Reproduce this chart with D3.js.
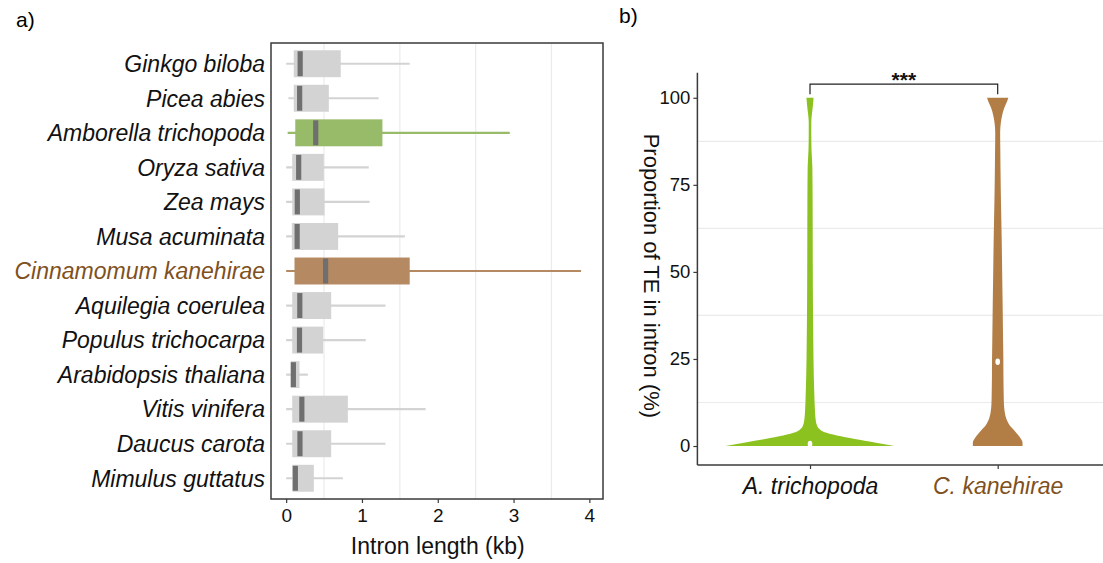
<!DOCTYPE html>
<html>
<head>
<meta charset="utf-8">
<script src="https://cdn.jsdelivr.net/npm/d3@7"></script>
<style>
  html, body { margin: 0; padding: 0; background: #fff; }
  svg { display: block; font-family: "Liberation Sans", Arial, sans-serif; }
</style>
</head>
<body>
<svg id="chart" width="1103" height="563"></svg>
<script>
// ---- Panel a: intron length per species (kb) ----
const species = [
  "Ginkgo biloba", "Picea abies", "Amborella trichopoda", "Oryza sativa",
  "Zea mays", "Musa acuminata", "Cinnamomum kanehirae", "Aquilegia coerulea",
  "Populus trichocarpa", "Arabidopsis thaliana", "Vitis vinifera",
  "Daucus carota", "Mimulus guttatus"
];
const whiskerLow  = [0.00, 0.03, 0.02, 0.00, 0.00, 0.00, 0.00, 0.00, 0.00, 0.00, 0.00, 0.00, 0.00];
const boxLow      = [0.10, 0.10, 0.12, 0.08, 0.08, 0.075, 0.11, 0.08, 0.08, 0.06, 0.08, 0.08, 0.08];
const medians     = [0.185, 0.178, 0.39, 0.165, 0.147, 0.145, 0.52, 0.18, 0.176, 0.095, 0.207, 0.182, 0.121];
const boxHigh     = [0.72, 0.563, 1.27, 0.497, 0.506, 0.686, 1.63, 0.594, 0.488, 0.176, 0.814, 0.594, 0.365];
const whiskerHigh = [1.63, 1.22, 2.95, 1.09, 1.10, 1.566, 3.89, 1.31, 1.05, 0.286, 1.84, 1.31, 0.748];
const lengthTicks = [0, 1, 2, 3, 4];
const lengthGrid  = [0.5, 1.5, 2.5, 3.5];

// ---- Panel b: share of TE within introns (%) ----
const teGroups = ["A. trichopoda", "C. kanehirae"];
const teLevelsA = [0, 1, 2, 3, 4, 5, 6, 8, 10, 15, 20, 30, 40, 50, 60, 70, 80, 85, 90, 93, 95, 97, 99, 100];
const teDensityA = [100, 76.5, 52.9, 31.8, 16.5, 10.6, 8.2, 6.5, 5.9, 5.1, 4.5, 3.9, 3.5, 3.3, 3.2, 3.1, 2.8, 1.8, 1.5, 1.5, 2.1, 3.1, 3.9, 4.2];
const teLevelsC = [0, 1, 2, 3, 4, 5, 6, 7, 8, 10, 12, 15, 20, 25, 30, 40, 50, 60, 70, 80, 85, 90, 93, 95, 97, 99, 100];
const teDensityC = [29.4, 29.4, 27.6, 24.7, 21.2, 17.6, 14.1, 11.8, 10, 8.2, 7.4, 7.1, 6.8, 6.7, 6.4, 5.9, 5.3, 4.7, 3.9, 3.3, 3.1, 2.9, 3.8, 5.3, 7.6, 11.2, 12.6];
const teMedians = [0.6, 24.2];
const teTicks = [0, 25, 50, 75, 100];
const teGrid = [12.5, 37.5, 62.5, 87.5];
const significance = "***";

const svg = d3.select("#chart");
const GREY = "#d3d3d3", GREEN_BOX = "#98bb6a", BROWN_BOX = "#b58a63";
const MEDIAN = "#6f6f6f", BROWN_TEXT = "#7f5020";
const VIOLIN_GREEN = "#8cc220", VIOLIN_BROWN = "#b27e46";
const highlight = { "Amborella trichopoda": GREEN_BOX, "Cinnamomum kanehirae": BROWN_BOX };

// ================= Panel a =================
const aLeft = 271, aRight = 603, aTop = 43, aBottom = 499;
const x = d3.scaleLinear().domain([-0.2, 4.18]).range([aLeft, aRight]);
const y = d3.scalePoint().domain(species).range([aTop, aBottom]).padding(0.6);
const boxH = y.step() * 0.78;

svg.append("text").attr("x", 16).attr("y", 27).attr("font-size", 21).text("a)");

const gA = svg.append("g");
gA.selectAll("line.grid").data(lengthGrid).join("line")
  .attr("class", "grid")
  .attr("x1", d => x(d)).attr("x2", d => x(d))
  .attr("y1", aTop).attr("y2", aBottom)
  .attr("stroke", "#ebebeb").attr("stroke-width", 1.2);

const rows = species.map((s, i) => ({
  s, lo: whiskerLow[i], q1: boxLow[i], med: medians[i], q3: boxHigh[i], hi: whiskerHigh[i],
  col: highlight[s] || GREY
}));

const row = gA.selectAll("g.row").data(rows).join("g").attr("class", "row");
row.append("line")
  .attr("x1", d => x(d.lo)).attr("x2", d => x(d.hi))
  .attr("y1", d => y(d.s)).attr("y2", d => y(d.s))
  .attr("stroke", d => d.col).attr("stroke-width", 2.2);
row.append("rect")
  .attr("x", d => x(d.q1)).attr("width", d => x(d.q3) - x(d.q1))
  .attr("y", d => y(d.s) - boxH / 2).attr("height", boxH)
  .attr("fill", d => d.col);
row.append("rect")
  .attr("x", d => x(d.med) - 2.6).attr("width", 5.2)
  .attr("y", d => y(d.s) - boxH / 2 + 1).attr("height", boxH - 2)
  .attr("fill", MEDIAN);

gA.append("rect")
  .attr("x", aLeft).attr("y", aTop).attr("width", aRight - aLeft).attr("height", aBottom - aTop)
  .attr("fill", "none").attr("stroke", "#3a3a3a").attr("stroke-width", 1.5);

const xAxisA = gA.append("g").attr("transform", `translate(0,${aBottom})`)
  .call(d3.axisBottom(x).tickValues(lengthTicks).tickSize(4).tickPadding(6).tickFormat(d3.format("d")));
xAxisA.select(".domain").remove();
xAxisA.selectAll(".tick line").attr("stroke", "#3a3a3a").attr("stroke-width", 1.2);
xAxisA.selectAll(".tick text").attr("font-size", 19).attr("fill", "#111")
  .attr("font-family", "Liberation Sans, Arial, sans-serif");

svg.append("text").attr("x", x(2)).attr("y", 554).attr("text-anchor", "middle")
  .attr("font-size", 23).attr("fill", "#111").text("Intron length (kb)");

gA.selectAll("text.sp").data(species).join("text")
  .attr("class", "sp")
  .attr("x", 265).attr("y", d => y(d)).attr("dy", "0.36em")
  .attr("text-anchor", "end").attr("font-size", 23).attr("font-style", "italic")
  .attr("fill", d => d === "Cinnamomum kanehirae" ? BROWN_TEXT : "#111")
  .text(d => d);

// ================= Panel b =================
const bLeft = 697.4, bBottom = 465, bTop = 72.7;
const xb = d3.scalePoint().domain(teGroups).range([bLeft, 1110.3]).padding(0.6);
const yb = d3.scaleLinear().domain([-5.45, 107.2]).range([bBottom, bTop]);
const maxDensity = d3.max(teDensityA.concat(teDensityC));
const w = d3.scaleLinear().domain([0, maxDensity]).range([0, xb.step() * 0.45]);

svg.append("text").attr("x", 619).attr("y", 23).attr("font-size", 21).text("b)");

const gB = svg.append("g");
gB.selectAll("line.grid").data(teGrid).join("line")
  .attr("class", "grid")
  .attr("x1", bLeft).attr("x2", 1103)
  .attr("y1", d => yb(d)).attr("y2", d => yb(d))
  .attr("stroke", "#ebebeb").attr("stroke-width", 1.2);

const violins = [
  { g: teGroups[0], levels: teLevelsA, dens: teDensityA, col: VIOLIN_GREEN, med: teMedians[0] },
  { g: teGroups[1], levels: teLevelsC, dens: teDensityC, col: VIOLIN_BROWN, med: teMedians[1] }
];
violins.forEach(v => {
  const pts = v.levels.map((l, i) => ({ l, d: v.dens[i] }));
  const cx = xb(v.g);
  const area = d3.area()
    .y(p => yb(p.l))
    .x0(p => cx - w(p.d))
    .x1(p => cx + w(p.d))
    .curve(d3.curveMonotoneY);
  gB.append("path").attr("d", area(pts)).attr("fill", v.col);
  gB.append("ellipse").attr("cx", cx).attr("cy", yb(v.med))
    .attr("rx", 2.3).attr("ry", 3.3).attr("fill", "#fff");
});

// axes
gB.append("line").attr("x1", bLeft).attr("x2", bLeft).attr("y1", bTop).attr("y2", bBottom)
  .attr("stroke", "#3a3a3a").attr("stroke-width", 1.5);
gB.append("line").attr("x1", bLeft).attr("x2", 1103).attr("y1", bBottom).attr("y2", bBottom)
  .attr("stroke", "#3a3a3a").attr("stroke-width", 1.5);

const yAxisB = gB.append("g").attr("transform", `translate(${bLeft},0)`)
  .call(d3.axisLeft(yb).tickValues(teTicks).tickSize(4).tickPadding(3));
yAxisB.select(".domain").remove();
yAxisB.selectAll(".tick line").attr("stroke", "#3a3a3a").attr("stroke-width", 1.2);
yAxisB.selectAll(".tick text").attr("font-size", 18.5).attr("fill", "#111")
  .attr("font-family", "Liberation Sans, Arial, sans-serif");

const xAxisB = gB.append("g").attr("transform", `translate(0,${bBottom})`)
  .call(d3.axisBottom(xb).tickSize(4).tickPadding(9));
xAxisB.select(".domain").remove();
xAxisB.selectAll(".tick line").attr("stroke", "#3a3a3a").attr("stroke-width", 1.2);
xAxisB.selectAll(".tick text").attr("font-size", 23).attr("font-style", "italic")
  .attr("font-family", "Liberation Sans, Arial, sans-serif")
  .attr("fill", d => d === "C. kanehirae" ? BROWN_TEXT : "#111");

svg.append("text")
  .attr("transform", `translate(644,${(yb(100) + yb(0)) / 2 + 4}) rotate(90)`)
  .attr("text-anchor", "middle").attr("font-size", 22).attr("fill", "#111")
  .text("Proportion of TE in intron (%)");

// significance bracket
const bracketTop = 103.9, bracketFoot = 101.0;
const xa = xb(teGroups[0]), xc = xb(teGroups[1]);
gB.append("path")
  .attr("d", `M${xa},${yb(bracketFoot)}V${yb(bracketTop)}H${xc}V${yb(bracketFoot)}`)
  .attr("fill", "none").attr("stroke", "#222").attr("stroke-width", 1.2);
gB.append("text").attr("x", (xa + xc) / 2).attr("y", yb(bracketTop) + 3)
  .attr("text-anchor", "middle").attr("font-size", 21).attr("font-weight", "bold").attr("fill", "#111")
  .text(significance);
</script>
</body>
</html>
